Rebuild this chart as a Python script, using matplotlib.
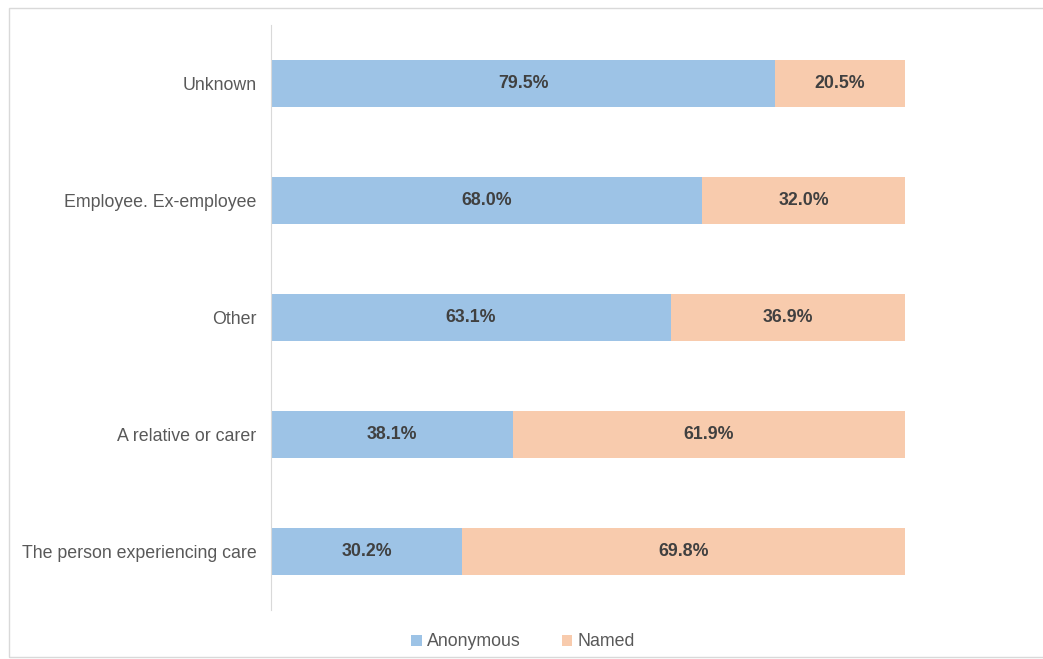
import matplotlib.pyplot as plt
from matplotlib.patches import Rectangle

plt.rcParams['font.family'] = ['Liberation Sans', 'DejaVu Sans']

categories = ['The person experiencing care', 'A relative or carer', 'Other',
              'Employee. Ex-employee', 'Unknown']
anonymous = [30.2, 38.1, 63.1, 68.0, 79.5]
named = [69.8, 61.9, 36.9, 32.0, 20.5]

blue = '#9DC3E6'
orange = '#F8CBAD'

fig = plt.figure(figsize=(10.43, 6.59), dpi=100)
fig.patches.append(Rectangle((9 / 1043, 0.003), 1.2, 1 - 8 / 659 - 0.003,
                             transform=fig.transFigure, fill=False,
                             edgecolor='#D9D9D9', linewidth=1))

ax = fig.add_axes([271 / 1043, 1 - 610 / 659, 634 / 1043, 585 / 659])
y = range(len(categories))
b1 = ax.barh(y, anonymous, height=0.4, color=blue, label='Anonymous')
b2 = ax.barh(y, named, left=anonymous, height=0.4, color=orange, label='Named')

for i in y:
    ax.text(anonymous[i] / 2, i, f'{anonymous[i]:.1f}%', ha='center', va='center',
            fontsize=12.8, fontweight='bold', color='#404040')
    ax.text(anonymous[i] + named[i] / 2, i, f'{named[i]:.1f}%', ha='center', va='center',
            fontsize=12.8, fontweight='bold', color='#404040')

ax.set_xlim(0, 100)
ax.set_ylim(-0.5, len(categories) - 0.5)
ax.set_yticks(list(y))
ax.set_yticklabels(categories, fontsize=12.8, color='#595959')
ax.tick_params(axis='y', length=0, pad=10.5)
ax.set_xticks([])
for s in ['top', 'right', 'bottom']:
    ax.spines[s].set_visible(False)
ax.spines['left'].set_color('#D9D9D9')

fig.legend(handles=[b1, b2], loc='center', bbox_to_anchor=(523 / 1043, 1 - 642 / 659),
           ncol=2, frameon=False, fontsize=12.8, labelcolor='#595959',
           handlelength=0.6, handleheight=0.6, handletextpad=0.3, columnspacing=2.3)

fig.savefig('out.png', dpi=100)
